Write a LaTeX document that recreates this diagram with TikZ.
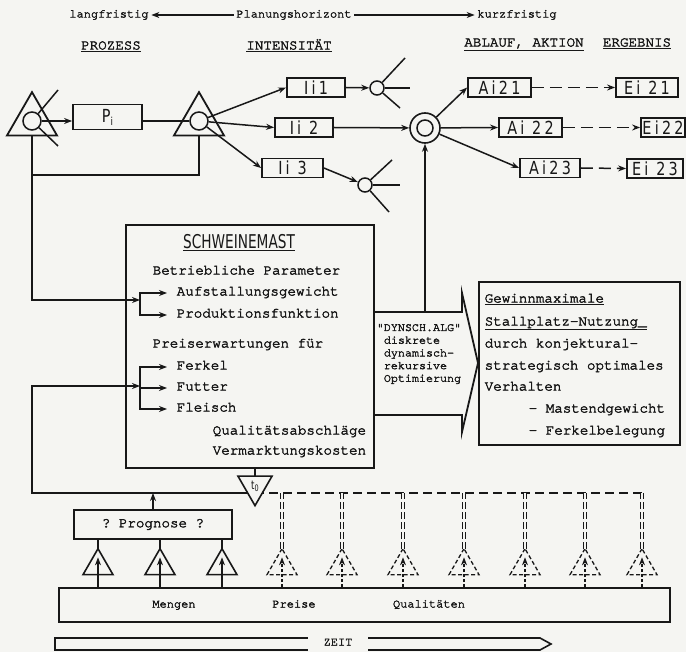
\documentclass[tikz,border=0pt]{standalone}
\usepackage{fontspec}
\setmonofont{TeX Gyre Cursor}[FakeBold=3]
\newfontfamily\lettering[FakeStretch=0.72]{DejaVu Sans}
\newfontfamily\boxlettering[FakeStretch=0.8,LetterSpace=18]{DejaVu Sans}
\usetikzlibrary{arrows.meta,shapes.geometric,calc}
\definecolor{ink}{HTML}{181818}
\definecolor{paper}{HTML}{F5F5F2}
\tikzset{
  txt/.style={inner sep=0pt,text height=.7em,text depth=.2em,font=\ttfamily\fontsize{14.2}{20}\selectfont},
  smalltxt/.style={txt,inner xsep=2pt,font=\ttfamily\fontsize{12}{14}\selectfont},
  item/.style={txt,anchor=west,inner xsep=9pt},
  lbox/.style={draw,line width=1.8pt,fill=paper,inner sep=0pt,minimum height=19pt,font=\boxlettering\fontsize{18}{18}\selectfont},
  panel/.style={draw,line width=1.8pt,inner sep=0pt},
  ring/.style={circle,draw,fill=paper,inner sep=0pt,minimum size=#1},
  wedge/.style={regular polygon,regular polygon sides=3,draw,inner sep=0pt,outer sep=0pt,minimum size=#1},
  dwedge/.style={wedge=#1,line width=1.3pt,dash pattern=on 4pt off 2.5pt},
  feed/.style={line width=2.6pt},
  dline/.style={line width=2.4pt,dash pattern=on 9pt off 5pt},
  ddash/.style={line width=1.2pt,double=paper,double distance=1.6pt,dash pattern=on 7pt off 3pt},
}
\begin{document}
\begin{tikzpicture}[x=1pt,y=-1pt,color=ink,line width=1.5pt,>={Stealth[length=8pt,width=6pt]}]
  \useasboundingbox (0,0) rectangle (686,652);
  \fill[paper] (0,0) rectangle (686,652);
  % planning horizon
  \node[smalltxt] (lang) at (109,15) {langfristig};
  \node[smalltxt] (plan) at (294,15) {Planungshorizont};
  \node[smalltxt] (kurz) at (517,15) {kurzfristig};
  \draw[->] (plan) -- (lang);
  \draw[->] (plan) -- (kurz);
  \node[txt] (hproz) at (111,47) {\underline{PROZESS}};
  \node[txt] (hint) at (289,47) {\underline{INTENSITÄT}};
  \node[txt] (habl) at (524,44) {\underline{ABLAUF, AKTION}};
  \node[txt] (herg) at (637,44) {\underline{ERGEBNIS}};
  % decision nodes
  \node[wedge=57.7,line width=1.8pt] (tri1) at (32,121) {};
  \node[ring=18] (c1) at (32,121) {};
  \node[wedge=57.7,line width=1.8pt] (tri2) at (199,121) {};
  \node[ring=18] (c2) at (199,121) {};
  \node[lbox,minimum width=69,minimum height=25] (pbox) at (107.5,117) {P\raisebox{-3pt}{\fontsize{11}{11}\selectfont i}};
  \foreach \n/\x/\y/\w/\lab in {i1/316/87.5/58/Ii1, i2/304/127.5/58/Ii 2, i3/292.5/168/61/Ii 3,
      a1/499.5/87.5/63/Ai21, a2/530.5/127.5/63/Ai 22, a3/550/168/60/Ai23,
      e1/647/87.5/62/Ei 21, e2/663/127.5/44/Ei22, e3/655/168.5/56/Ei 23}
    \node[lbox,minimum width=\w] (\n) at (\x,\y) {\lab};
  \node[ring=14] (s1) at (377,88) {};
  \node[ring=14] (s3) at (365,185) {};
  \node[ring=30,line width=1.6pt] (cc) at (425,128) {};
  \node[ring=16] (cci) at (425,128) {};
  \foreach \c/\n/\x/\y in {s1/1/405/58, s1/2/410/88, s1/3/400/108, s3/1/392/160,
      s3/2/400/185, s3/3/389/212, c1/1/58/90, c1/2/58/146}{
    \coordinate (\c r\n) at (\x,\y);
    \draw (\c) -- (\c r\n);
  }
  \draw[->] (c1) -- (c1 -| pbox.west);
  \draw (pbox.east |- c2) -- (c2);
  \foreach \b in {i1,i2,i3}
    \draw[->] (c2) -- (\b.west);
  \draw[->] (i1.east) -- (s1);
  \draw[->] (i3.east) -- (s3);
  \draw[->] (i2.east) -- (cc);
  \foreach \n in {1,2,3}{
    \draw[->] (cc) -- (a\n.west);
    \draw[->,dash pattern=on 12pt off 6pt] (a\n.east) -- (e\n.west);
  }
  % model
  \node[panel,minimum width=248,minimum height=243] (schw) at (250,346.5) {};
  \node[font=\lettering\fontsize{19}{19}\selectfont,inner sep=0pt] (title) at (239,243) {\underline{SCHWEINEMAST}};
  \node[txt,anchor=west] (betr) at (152,272) {Betriebliche Parameter};
  \node[item] (aufst) at (167,293) {Aufstallungsgewicht};
  \node[item] (prod) at (167,315) {Produktionsfunktion};
  \node[txt,anchor=west] (preis) at (152,345) {Preiserwartungen für};
  \node[item] (ferkel) at (167,367) {Ferkel};
  \node[item] (futter) at (167,388) {Futter};
  \node[item] (fleisch) at (167,409) {Fleisch};
  \node[txt,anchor=west] (qual) at (212,432) {Qualitätsabschläge};
  \node[txt,anchor=west] (verm) at (212,452) {Vermarktungskosten};
  \coordinate (b1) at (140,300);
  \coordinate (b2) at (140,386);
  \foreach \t in {aufst,prod}
    \draw[->] (b1) |- (\t.west);
  \foreach \t in {ferkel,futter,fleisch}
    \draw[->] (b2) |- (\t.west);
  \coordinate (j1) at (32,175);
  \draw[feed,->] (tri1.side 2) |- (b1);
  \draw[feed] (tri2.side 2) |- (j1);
  % optimisation arrow and result
  \draw[line width=1.8pt] (374,312) -- (462,312) -- (462,293) -- (478,363)
    -- (462,432) -- (462,415) -- (374,415);
  \node[align=left,inner sep=0pt,font=\ttfamily\fontsize{11.7}{12.7}\selectfont] (dyn) at (419,354)
    {"DYNSCH.ALG"\\\hphantom{x}diskrete\\\hphantom{x}dynamisch-\\\hphantom{x}rekursive\\\hphantom{x}Optimierung};
  \coordinate (dyntop) at (425,312);
  \draw[->] (dyntop) -- (cc);
  \node[panel,minimum width=201,minimum height=163] (gew) at (579.5,363.5) {};
  \foreach \y/\t in {300/\underline{Gewinnmaximale}, 323/\underline{Stallplatz-Nutzung\_},
      345/durch konjektural-, 367/strategisch optimales, 388/Verhalten}
    \node[txt,anchor=west] (g\y) at (484,\y) {\t};
  \node[txt,anchor=west] (mast) at (528,410) {- Mastendgewicht};
  \node[txt,anchor=west] (beleg) at (528,432) {- Ferkelbelegung};
  % information feedback
  \coordinate (j2) at (32,493);
  \coordinate (tz) at (255,493);
  \coordinate (j4) at (642,493);
  \draw[feed,->] (tz) -- (j2) |- (b2);
  \draw[dline] (tz) -- (j4);
  \draw (schw.south -| tz) -- (tz);
  \node[wedge=39.3,shape border rotate=180,fill=paper,line width=1.6pt,
    font=\lettering\fontsize{12}{12}\selectfont] (t0) at (255,486) {t\raisebox{-2pt}{\fontsize{9}{9}\selectfont 0}};
  \node[panel,minimum width=158,minimum height=29,font=\ttfamily\fontsize{14.2}{16}\selectfont] (prog) at (153,524.5) {? Prognose ?};
  \draw[->] (prog) -- (prog |- j2);
  % market data
  \node[panel,minimum width=611,minimum height=34] (bar) at (364.5,605) {};
  \node[smalltxt] (mengen) at (174,605) {Mengen};
  \node[smalltxt] (preise) at (294,605) {Preise};
  \node[smalltxt] (qualit) at (429,605) {Qualitäten};
  \foreach \n/\x in {1/98,2/160,3/222}{
    \node[wedge=34.6,line width=1.6pt] (st\n) at (\x,566) {};
    \draw[->] (bar.north -| st\n) -- ($(st\n.center)!.5!(st\n.corner 1)$);
    \draw (st\n.corner 1) -- (prog.south -| st\n);
  }
  \foreach \n/\x in {1/282,2/342,3/403,4/464,5/525,6/585,7/642}{
    \node[dwedge=34.6] (dt\n) at (\x,566) {};
    \draw[->,line width=1.1pt,dash pattern=on 3pt off 2pt] (bar.north -| dt\n) -- ($(dt\n.center)!.5!(dt\n.corner 1)$);
    \draw[ddash] (dt\n.corner 1) -- (dt\n |- j2);
  }
  % time axis
  \draw[line width=1.6pt] (55,638) -- (540,638) -- (551,644) -- (540,650) -- (55,650) -- cycle;
  \node[smalltxt,fill=paper,inner xsep=16pt,inner ysep=4pt] (zeit) at (338,643) {ZEIT};
\end{tikzpicture}
\end{document}
